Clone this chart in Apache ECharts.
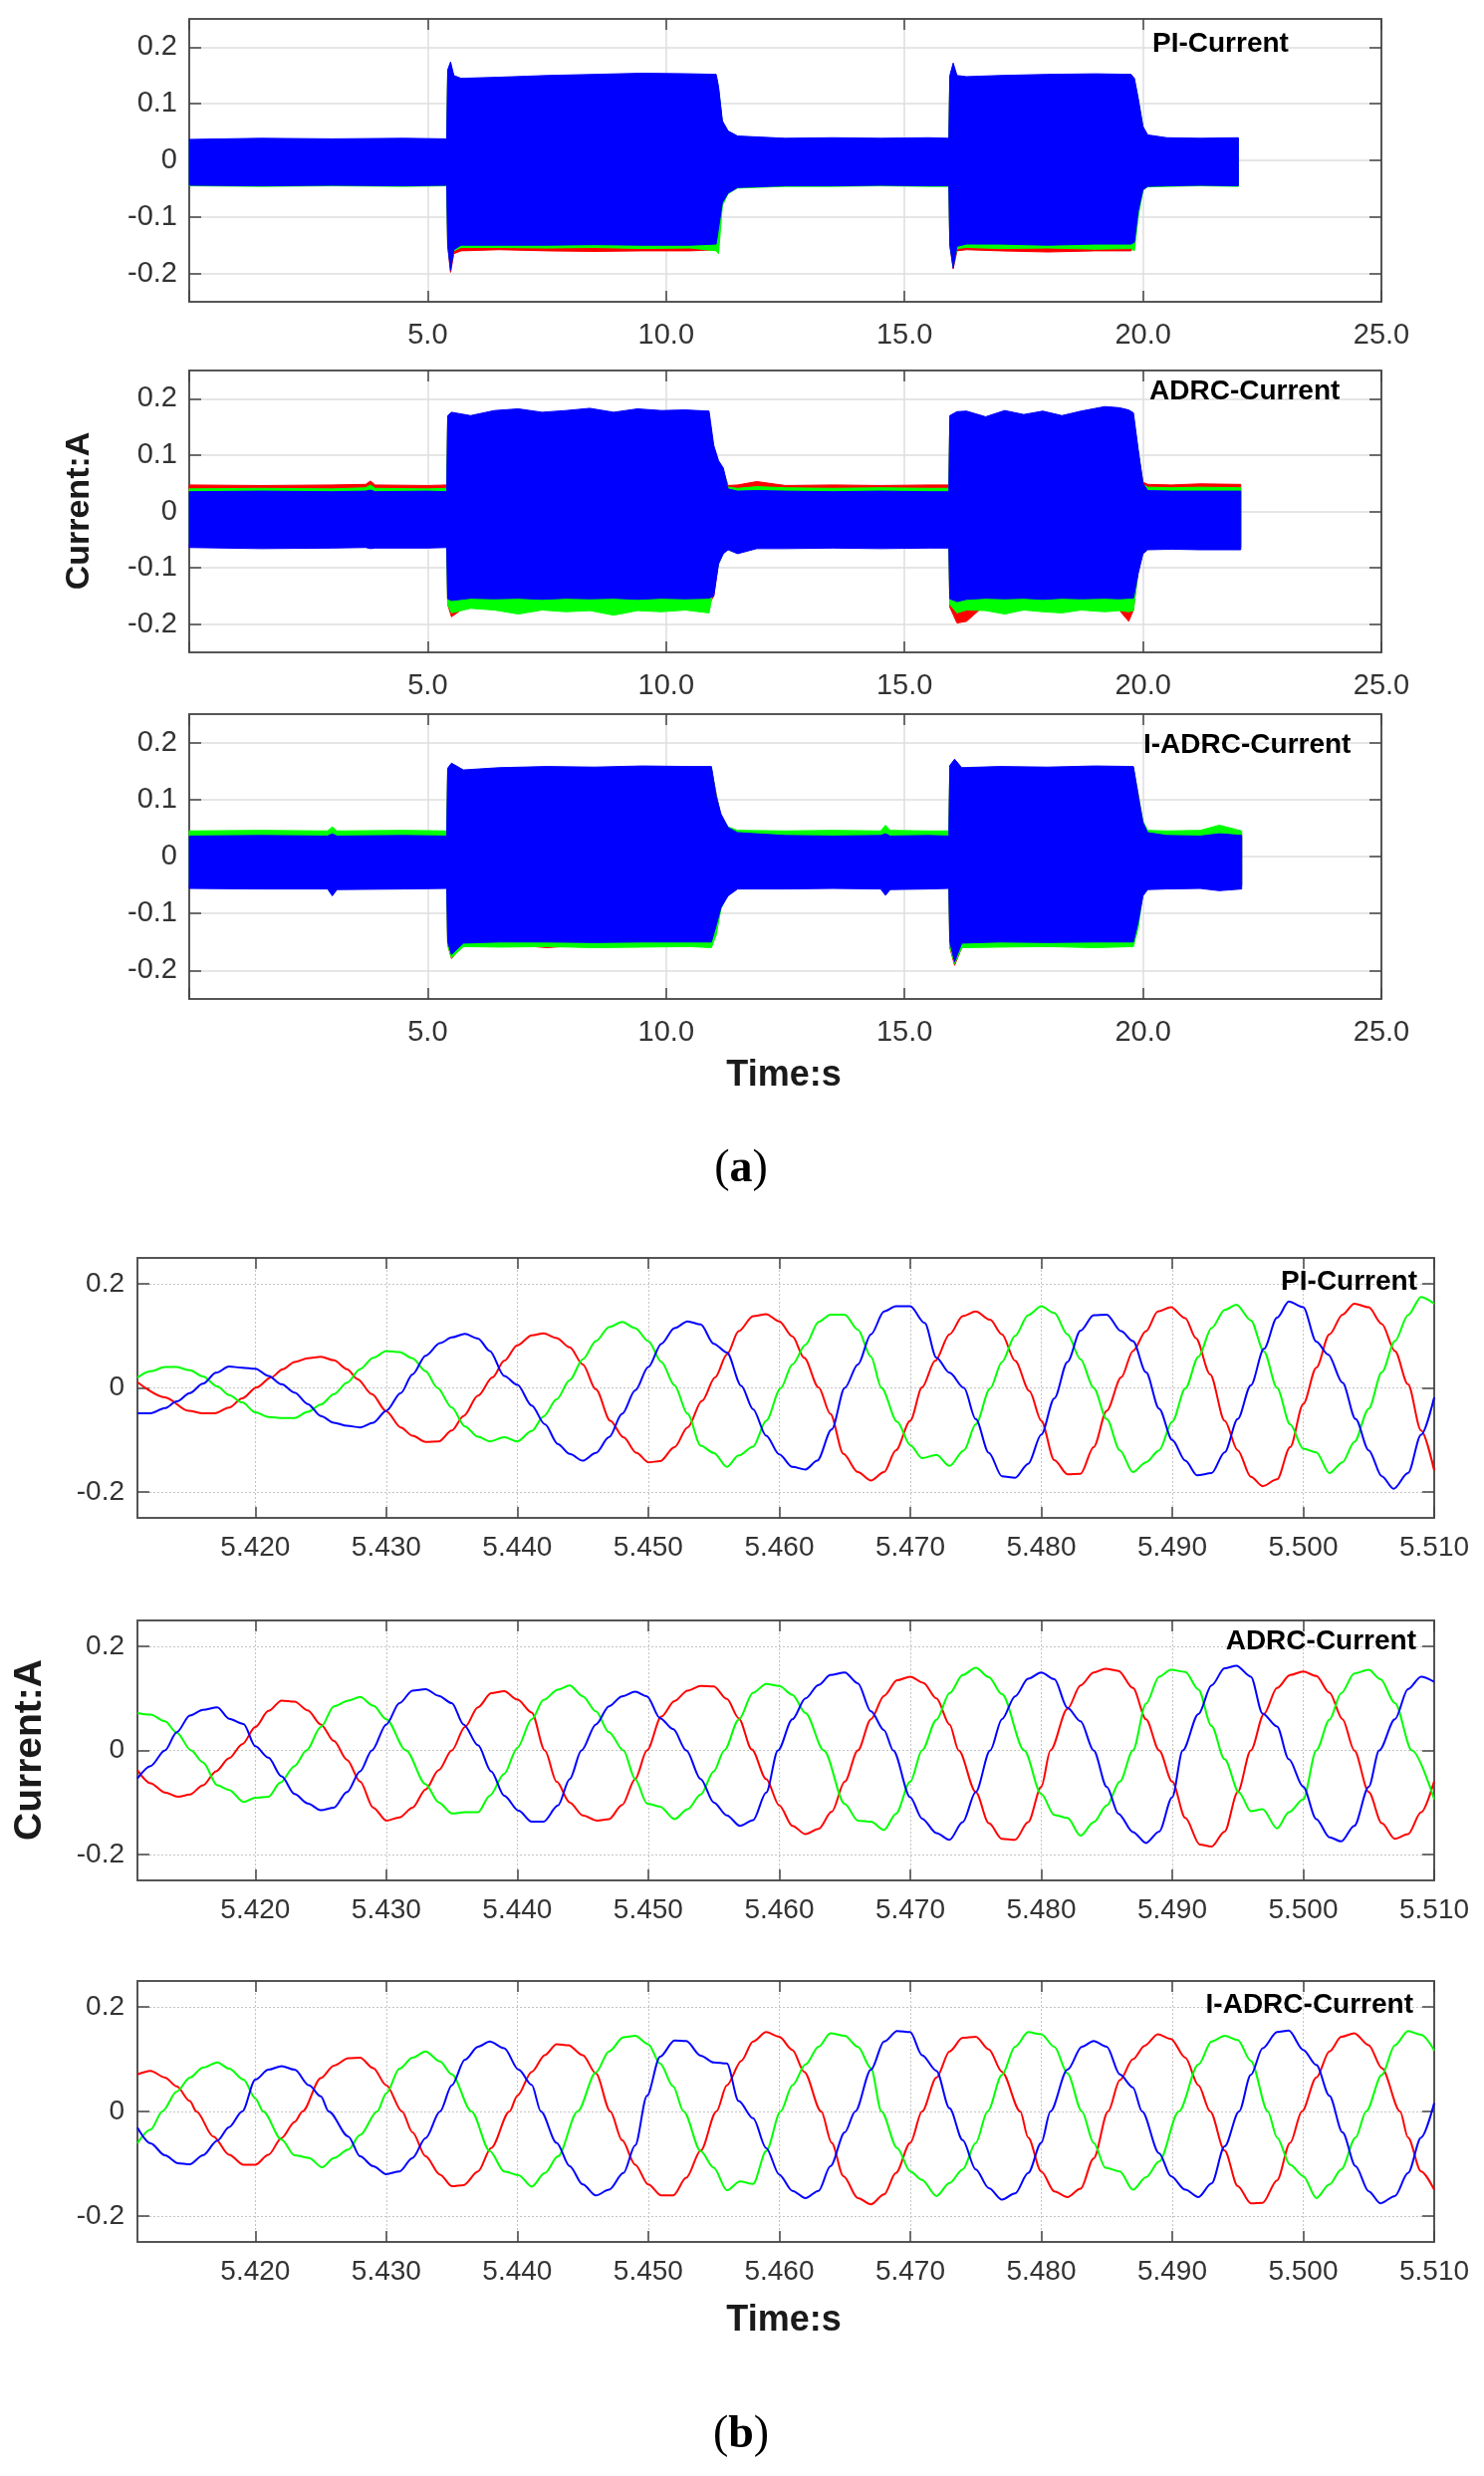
<!DOCTYPE html>
<html>
<head>
<meta charset="utf-8">
<title>Current: PI / ADRC / I-ADRC</title>
<script src="https://cdn.jsdelivr.net/npm/echarts@6/dist/echarts.min.js"></script>
<style>
  html, body { margin: 0; padding: 0; background: #fff; }
  #chart { width: 1490px; height: 2486px; }
</style>
</head>
<body>
<div id="chart"></div>
<script>
// ---------- (a) whole run: envelope of the three phase currents ----------
// PI
var tPI = [0, 1.5, 3, 4.5, 5.4, 5.42, 5.48, 5.55, 5.7, 6.5, 7.5, 8.5, 9.5, 10.5, 11.05, 11.1, 11.18, 11.3, 11.5, 12.5, 13.5, 14.5, 15.5, 15.93, 15.95, 16.02, 16.1, 16.3, 17, 18, 19, 19.75, 19.82, 19.9, 20.0, 20.1, 20.5, 21.2, 22.0];
var piRedHi = [0.035, 0.036, 0.035, 0.036, 0.035, 0.150, 0.165, 0.145, 0.142, 0.144, 0.146, 0.148, 0.150, 0.149, 0.148, 0.125, 0.066, 0.049, 0.040, 0.036, 0.037, 0.036, 0.037, 0.036, 0.145, 0.165, 0.146, 0.145, 0.146, 0.148, 0.149, 0.148, 0.141, 0.105, 0.056, 0.042, 0.037, 0.036, 0.037];
var piRedLo = [-0.043, -0.044, -0.043, -0.044, -0.043, -0.150, -0.198, -0.165, -0.160, -0.158, -0.160, -0.161, -0.160, -0.160, -0.158, -0.120, -0.075, -0.057, -0.047, -0.044, -0.044, -0.043, -0.044, -0.044, -0.150, -0.192, -0.160, -0.158, -0.160, -0.162, -0.160, -0.160, -0.150, -0.090, -0.051, -0.045, -0.044, -0.043, -0.044];
var piGreenHi = [0.036, 0.037, 0.036, 0.037, 0.036, 0.155, 0.170, 0.147, 0.143, 0.145, 0.148, 0.150, 0.152, 0.151, 0.150, 0.128, 0.068, 0.050, 0.041, 0.037, 0.038, 0.037, 0.038, 0.037, 0.147, 0.168, 0.148, 0.146, 0.148, 0.150, 0.151, 0.150, 0.143, 0.108, 0.058, 0.043, 0.038, 0.037, 0.038];
var piGreenLo = [-0.045, -0.046, -0.045, -0.046, -0.045, -0.150, -0.190, -0.160, -0.154, -0.154, -0.155, -0.154, -0.156, -0.155, -0.160, -0.165, -0.080, -0.059, -0.049, -0.046, -0.046, -0.045, -0.046, -0.046, -0.150, -0.188, -0.156, -0.154, -0.156, -0.155, -0.157, -0.156, -0.160, -0.100, -0.053, -0.047, -0.046, -0.045, -0.046];
var piBlueHi = [0.037, 0.039, 0.038, 0.039, 0.038, 0.160, 0.174, 0.150, 0.145, 0.147, 0.150, 0.152, 0.154, 0.153, 0.152, 0.130, 0.070, 0.052, 0.043, 0.039, 0.040, 0.039, 0.040, 0.039, 0.150, 0.172, 0.150, 0.148, 0.150, 0.152, 0.153, 0.152, 0.145, 0.110, 0.060, 0.045, 0.040, 0.039, 0.040];
var piBlueLo = [-0.044, -0.045, -0.044, -0.045, -0.044, -0.150, -0.195, -0.158, -0.150, -0.150, -0.150, -0.149, -0.150, -0.150, -0.148, -0.120, -0.075, -0.058, -0.048, -0.045, -0.045, -0.044, -0.045, -0.045, -0.150, -0.190, -0.152, -0.148, -0.148, -0.150, -0.148, -0.148, -0.145, -0.090, -0.052, -0.046, -0.045, -0.044, -0.045];

// ADRC
var tAD = [0, 1.5, 3, 3.7, 3.8, 3.9, 5, 5.4, 5.42, 5.5, 5.9, 6.4, 6.9, 7.4, 7.9, 8.4, 8.9, 9.4, 9.9, 10.4, 10.9, 11.0, 11.1, 11.2, 11.3, 11.5, 11.9, 12.5, 13.5, 14.5, 15.5, 15.93, 15.95, 16.1, 16.3, 16.7, 17.1, 17.5, 17.9, 18.3, 18.7, 19.2, 19.5, 19.7, 19.8, 19.9, 20.0, 20.1, 20.6, 21.2, 22.05];
var adRedHi = [0.047, 0.046, 0.047, 0.048, 0.054, 0.047, 0.046, 0.047, 0.160, 0.165, 0.162, 0.166, 0.168, 0.165, 0.166, 0.168, 0.165, 0.167, 0.166, 0.167, 0.165, 0.110, 0.085, 0.072, 0.046, 0.047, 0.053, 0.046, 0.047, 0.046, 0.047, 0.047, 0.160, 0.165, 0.166, 0.160, 0.166, 0.163, 0.165, 0.162, 0.165, 0.170, 0.170, 0.168, 0.165, 0.105, 0.052, 0.048, 0.047, 0.049, 0.048];
var adRedLo = [-0.060, -0.061, -0.060, -0.060, -0.061, -0.060, -0.060, -0.060, -0.165, -0.187, -0.163, -0.162, -0.165, -0.163, -0.162, -0.164, -0.163, -0.165, -0.162, -0.163, -0.165, -0.150, -0.090, -0.072, -0.064, -0.070, -0.062, -0.061, -0.060, -0.061, -0.060, -0.060, -0.170, -0.198, -0.195, -0.165, -0.163, -0.165, -0.164, -0.166, -0.170, -0.168, -0.175, -0.195, -0.175, -0.105, -0.072, -0.064, -0.063, -0.064, -0.064];
var adGreenHi = [0.040, 0.041, 0.040, 0.042, 0.047, 0.041, 0.040, 0.041, 0.162, 0.168, 0.165, 0.168, 0.170, 0.168, 0.169, 0.170, 0.168, 0.170, 0.169, 0.170, 0.168, 0.112, 0.087, 0.074, 0.043, 0.041, 0.044, 0.042, 0.041, 0.042, 0.041, 0.041, 0.162, 0.168, 0.169, 0.163, 0.169, 0.166, 0.168, 0.165, 0.168, 0.175, 0.174, 0.172, 0.168, 0.107, 0.048, 0.043, 0.042, 0.043, 0.042];
var adGreenLo = [-0.058, -0.059, -0.058, -0.058, -0.059, -0.058, -0.058, -0.058, -0.165, -0.180, -0.172, -0.175, -0.182, -0.175, -0.178, -0.176, -0.184, -0.176, -0.178, -0.175, -0.180, -0.134, -0.093, -0.074, -0.064, -0.070, -0.061, -0.060, -0.059, -0.060, -0.059, -0.059, -0.165, -0.180, -0.175, -0.176, -0.182, -0.175, -0.178, -0.180, -0.175, -0.178, -0.176, -0.178, -0.176, -0.105, -0.072, -0.063, -0.062, -0.063, -0.063];
var adBlueHi = [0.035, 0.036, 0.035, 0.036, 0.038, 0.035, 0.036, 0.035, 0.170, 0.176, 0.170, 0.179, 0.182, 0.176, 0.179, 0.183, 0.176, 0.182, 0.179, 0.180, 0.178, 0.117, 0.090, 0.077, 0.040, 0.036, 0.037, 0.036, 0.035, 0.036, 0.035, 0.035, 0.170, 0.177, 0.178, 0.168, 0.179, 0.172, 0.178, 0.170, 0.178, 0.186, 0.184, 0.180, 0.175, 0.110, 0.050, 0.037, 0.036, 0.036, 0.036];
var adBlueLo = [-0.064, -0.066, -0.065, -0.064, -0.066, -0.065, -0.065, -0.064, -0.155, -0.158, -0.154, -0.155, -0.154, -0.156, -0.154, -0.155, -0.154, -0.156, -0.154, -0.155, -0.154, -0.150, -0.093, -0.075, -0.068, -0.075, -0.066, -0.066, -0.065, -0.066, -0.065, -0.065, -0.155, -0.160, -0.156, -0.154, -0.155, -0.154, -0.156, -0.154, -0.155, -0.154, -0.155, -0.154, -0.154, -0.110, -0.075, -0.068, -0.067, -0.068, -0.068];

// I-ADRC
var tIA = [0, 1.5, 2.9, 3.0, 3.1, 4.5, 5.4, 5.42, 5.5, 5.75, 6.5, 7.5, 8.5, 9.5, 10.5, 10.95, 11.05, 11.15, 11.3, 11.5, 12.5, 13.5, 14.5, 14.6, 14.7, 15.5, 15.93, 15.95, 16.05, 16.2, 17, 18, 19, 19.8, 19.9, 20.0, 20.1, 20.5, 21.2, 21.6, 22.07];
var iaRedHi = [0.038, 0.039, 0.038, 0.045, 0.038, 0.039, 0.038, 0.150, 0.160, 0.148, 0.152, 0.154, 0.153, 0.155, 0.154, 0.154, 0.110, 0.070, 0.048, 0.040, 0.039, 0.038, 0.039, 0.045, 0.038, 0.039, 0.038, 0.155, 0.165, 0.152, 0.154, 0.153, 0.155, 0.154, 0.110, 0.058, 0.040, 0.039, 0.038, 0.045, 0.039];
var iaRedLo = [-0.050, -0.051, -0.051, -0.060, -0.052, -0.051, -0.050, -0.155, -0.179, -0.155, -0.153, -0.160, -0.154, -0.153, -0.155, -0.153, -0.115, -0.085, -0.062, -0.051, -0.051, -0.050, -0.051, -0.060, -0.052, -0.051, -0.050, -0.160, -0.191, -0.160, -0.153, -0.158, -0.153, -0.155, -0.110, -0.062, -0.052, -0.051, -0.050, -0.054, -0.051];
var iaGreenHi = [0.045, 0.046, 0.045, 0.052, 0.045, 0.046, 0.045, 0.152, 0.162, 0.150, 0.154, 0.156, 0.155, 0.157, 0.156, 0.156, 0.108, 0.072, 0.052, 0.046, 0.045, 0.046, 0.045, 0.055, 0.046, 0.045, 0.045, 0.158, 0.168, 0.154, 0.156, 0.155, 0.157, 0.156, 0.108, 0.062, 0.046, 0.045, 0.046, 0.055, 0.045];
var iaGreenLo = [-0.050, -0.051, -0.051, -0.060, -0.052, -0.051, -0.050, -0.155, -0.178, -0.158, -0.159, -0.158, -0.160, -0.159, -0.158, -0.160, -0.138, -0.092, -0.064, -0.052, -0.051, -0.050, -0.051, -0.060, -0.052, -0.051, -0.050, -0.158, -0.188, -0.160, -0.159, -0.158, -0.160, -0.158, -0.125, -0.064, -0.052, -0.051, -0.050, -0.054, -0.051];
var iaBlueHi = [0.036, 0.037, 0.036, 0.040, 0.036, 0.037, 0.036, 0.155, 0.164, 0.152, 0.156, 0.158, 0.157, 0.159, 0.158, 0.158, 0.106, 0.075, 0.051, 0.042, 0.037, 0.036, 0.037, 0.040, 0.036, 0.037, 0.036, 0.160, 0.171, 0.156, 0.158, 0.157, 0.159, 0.158, 0.106, 0.060, 0.042, 0.037, 0.036, 0.040, 0.037];
var iaBlueLo = [-0.056, -0.057, -0.057, -0.069, -0.058, -0.057, -0.056, -0.150, -0.172, -0.152, -0.150, -0.150, -0.151, -0.150, -0.150, -0.150, -0.121, -0.090, -0.069, -0.057, -0.057, -0.056, -0.057, -0.068, -0.058, -0.057, -0.056, -0.150, -0.185, -0.152, -0.150, -0.151, -0.150, -0.150, -0.115, -0.069, -0.058, -0.057, -0.056, -0.060, -0.057];

// ---------- (b) 5.411 - 5.510 s detail, [time, current] ----------
var zPiRed = [[5.4110,0.011],[5.4131,-0.018],[5.4149,-0.044],[5.4160,-0.049],[5.4169,-0.049],[5.4180,-0.038],[5.4190,-0.020],[5.4201,0.001],[5.4212,0.020],[5.4221,0.036],[5.4230,0.050],[5.4240,0.057],[5.4250,0.060],[5.4260,0.053],[5.4270,0.036],[5.4278,0.017],[5.4289,-0.012],[5.4300,-0.045],[5.4311,-0.076],[5.4320,-0.092],[5.4330,-0.104],[5.4340,-0.103],[5.4350,-0.082],[5.4359,-0.054],[5.4370,-0.015],[5.4381,0.020],[5.4390,0.052],[5.4400,0.082],[5.4411,0.101],[5.4420,0.105],[5.4430,0.096],[5.4440,0.078],[5.4450,0.045],[5.4460,-0.003],[5.4471,-0.063],[5.4481,-0.095],[5.4491,-0.125],[5.4500,-0.143],[5.4509,-0.141],[5.4520,-0.114],[5.4530,-0.076],[5.4541,-0.025],[5.4551,0.020],[5.4560,0.064],[5.4569,0.109],[5.4580,0.138],[5.4590,0.142],[5.4600,0.128],[5.4610,0.099],[5.4619,0.058],[5.4630,0.001],[5.4639,-0.050],[5.4649,-0.127],[5.4660,-0.162],[5.4670,-0.178],[5.4680,-0.162],[5.4689,-0.120],[5.4700,-0.063],[5.4709,0.001],[5.4719,0.052],[5.4730,0.103],[5.4740,0.138],[5.4750,0.147],[5.4761,0.131],[5.4770,0.103],[5.4780,0.052],[5.4791,-0.006],[5.4800,-0.063],[5.4810,-0.139],[5.4820,-0.166],[5.4830,-0.165],[5.4840,-0.114],[5.4850,-0.044],[5.4861,0.020],[5.4870,0.071],[5.4880,0.109],[5.4889,0.147],[5.4899,0.155],[5.4910,0.134],[5.4918,0.096],[5.4929,0.026],[5.4940,-0.063],[5.4950,-0.120],[5.4960,-0.171],[5.4969,-0.189],[5.4980,-0.176],[5.4990,-0.114],[5.5000,-0.031],[5.5010,0.039],[5.5020,0.103],[5.5030,0.141],[5.5039,0.162],[5.5050,0.155],[5.5060,0.123],[5.5070,0.071],[5.5080,0.007],[5.5090,-0.082],[5.5100,-0.159]];
var zPiGreen = [[5.4110,0.020],[5.4120,0.032],[5.4131,0.040],[5.4140,0.040],[5.4150,0.034],[5.4160,0.022],[5.4171,0.003],[5.4180,-0.014],[5.4190,-0.028],[5.4200,-0.047],[5.4210,-0.056],[5.4221,-0.058],[5.4230,-0.058],[5.4240,-0.046],[5.4250,-0.032],[5.4260,-0.012],[5.4270,0.010],[5.4280,0.036],[5.4290,0.058],[5.4300,0.071],[5.4310,0.069],[5.4320,0.057],[5.4330,0.032],[5.4339,0.000],[5.4350,-0.038],[5.4360,-0.074],[5.4370,-0.094],[5.4379,-0.103],[5.4390,-0.095],[5.4400,-0.103],[5.4411,-0.083],[5.4420,-0.055],[5.4430,-0.022],[5.4440,0.015],[5.4450,0.055],[5.4460,0.090],[5.4470,0.117],[5.4480,0.127],[5.4490,0.115],[5.4500,0.090],[5.4510,0.050],[5.4520,0.005],[5.4530,-0.050],[5.4540,-0.111],[5.4550,-0.125],[5.4560,-0.152],[5.4569,-0.130],[5.4580,-0.113],[5.4590,-0.063],[5.4601,-0.001],[5.4610,0.045],[5.4620,0.083],[5.4630,0.127],[5.4639,0.141],[5.4650,0.141],[5.4660,0.112],[5.4670,0.060],[5.4678,0.000],[5.4690,-0.065],[5.4700,-0.110],[5.4709,-0.135],[5.4720,-0.129],[5.4730,-0.150],[5.4741,-0.120],[5.4750,-0.070],[5.4761,-0.001],[5.4770,0.050],[5.4780,0.100],[5.4790,0.140],[5.4800,0.157],[5.4810,0.144],[5.4820,0.103],[5.4830,0.055],[5.4840,0.000],[5.4850,-0.060],[5.4860,-0.120],[5.4870,-0.162],[5.4880,-0.143],[5.4890,-0.120],[5.4900,-0.065],[5.4910,-0.001],[5.4920,0.060],[5.4930,0.115],[5.4940,0.150],[5.4949,0.160],[5.4960,0.130],[5.4970,0.070],[5.4980,0.000],[5.4990,-0.070],[5.5000,-0.117],[5.5010,-0.124],[5.5020,-0.164],[5.5030,-0.143],[5.5039,-0.104],[5.5050,-0.040],[5.5060,0.030],[5.5070,0.090],[5.5080,0.140],[5.5090,0.175],[5.5100,0.162]];
var zPiBlue = [[5.4110,-0.049],[5.4120,-0.049],[5.4131,-0.039],[5.4140,-0.026],[5.4150,-0.010],[5.4160,0.008],[5.4170,0.029],[5.4180,0.041],[5.4190,0.039],[5.4200,0.037],[5.4210,0.023],[5.4220,0.007],[5.4230,-0.009],[5.4240,-0.031],[5.4250,-0.054],[5.4260,-0.067],[5.4270,-0.073],[5.4280,-0.076],[5.4290,-0.067],[5.4300,-0.044],[5.4311,-0.010],[5.4320,0.026],[5.4330,0.062],[5.4341,0.086],[5.4350,0.097],[5.4360,0.104],[5.4370,0.095],[5.4379,0.071],[5.4390,0.023],[5.4400,0.006],[5.4411,-0.034],[5.4421,-0.070],[5.4431,-0.108],[5.4440,-0.127],[5.4450,-0.140],[5.4460,-0.125],[5.4470,-0.095],[5.4480,-0.050],[5.4490,-0.005],[5.4500,0.040],[5.4510,0.085],[5.4520,0.115],[5.4530,0.128],[5.4540,0.122],[5.4550,0.085],[5.4560,0.068],[5.4571,0.004],[5.4580,-0.041],[5.4590,-0.092],[5.4600,-0.128],[5.4610,-0.152],[5.4620,-0.157],[5.4629,-0.140],[5.4640,-0.080],[5.4650,0.000],[5.4660,0.045],[5.4670,0.103],[5.4680,0.147],[5.4689,0.157],[5.4700,0.157],[5.4711,0.125],[5.4720,0.058],[5.4730,0.029],[5.4741,0.000],[5.4750,-0.060],[5.4760,-0.125],[5.4770,-0.170],[5.4780,-0.173],[5.4790,-0.146],[5.4800,-0.090],[5.4810,-0.020],[5.4820,0.050],[5.4830,0.110],[5.4840,0.140],[5.4850,0.141],[5.4861,0.109],[5.4870,0.090],[5.4880,0.030],[5.4890,-0.040],[5.4900,-0.100],[5.4910,-0.140],[5.4919,-0.168],[5.4930,-0.164],[5.4940,-0.124],[5.4950,-0.060],[5.4960,0.005],[5.4970,0.075],[5.4980,0.135],[5.4989,0.166],[5.5000,0.155],[5.5010,0.089],[5.5019,0.064],[5.5030,0.010],[5.5040,-0.060],[5.5050,-0.120],[5.5060,-0.170],[5.5069,-0.194],[5.5080,-0.164],[5.5090,-0.090],[5.5100,-0.018]];

var zAdRed = [[5.4110,-0.038],[5.4120,-0.063],[5.4131,-0.081],[5.4141,-0.089],[5.4150,-0.085],[5.4160,-0.067],[5.4170,-0.040],[5.4180,-0.015],[5.4190,0.012],[5.4200,0.045],[5.4210,0.076],[5.4220,0.096],[5.4230,0.094],[5.4240,0.077],[5.4250,0.050],[5.4260,0.018],[5.4270,-0.018],[5.4280,-0.060],[5.4290,-0.110],[5.4300,-0.135],[5.4310,-0.129],[5.4320,-0.110],[5.4330,-0.075],[5.4340,-0.038],[5.4350,0.000],[5.4360,0.045],[5.4370,0.083],[5.4380,0.110],[5.4390,0.114],[5.4400,0.098],[5.4411,0.073],[5.4421,0.000],[5.4430,-0.060],[5.4440,-0.100],[5.4450,-0.125],[5.4461,-0.135],[5.4470,-0.132],[5.4480,-0.105],[5.4490,-0.055],[5.4499,0.000],[5.4510,0.065],[5.4520,0.095],[5.4530,0.115],[5.4540,0.124],[5.4550,0.123],[5.4560,0.099],[5.4569,0.062],[5.4579,0.002],[5.4590,-0.055],[5.4600,-0.106],[5.4610,-0.145],[5.4620,-0.161],[5.4630,-0.151],[5.4640,-0.118],[5.4650,-0.060],[5.4660,0.000],[5.4670,0.060],[5.4680,0.105],[5.4690,0.135],[5.4700,0.142],[5.4710,0.130],[5.4720,0.100],[5.4730,0.050],[5.4737,0.000],[5.4750,-0.080],[5.4760,-0.140],[5.4770,-0.170],[5.4780,-0.172],[5.4790,-0.138],[5.4800,-0.070],[5.4807,0.000],[5.4820,0.080],[5.4830,0.125],[5.4840,0.150],[5.4849,0.157],[5.4859,0.153],[5.4870,0.120],[5.4880,0.060],[5.4890,0.000],[5.4900,-0.060],[5.4910,-0.130],[5.4921,-0.181],[5.4930,-0.185],[5.4940,-0.156],[5.4950,-0.080],[5.4960,0.000],[5.4970,0.070],[5.4980,0.120],[5.4990,0.145],[5.5000,0.152],[5.5010,0.143],[5.5020,0.111],[5.5030,0.060],[5.5039,0.000],[5.5050,-0.080],[5.5060,-0.140],[5.5070,-0.170],[5.5080,-0.161],[5.5090,-0.119],[5.5100,-0.059]];
var zAdGreen = [[5.4110,0.072],[5.4120,0.069],[5.4131,0.056],[5.4140,0.034],[5.4151,0.000],[5.4160,-0.023],[5.4171,-0.067],[5.4180,-0.076],[5.4191,-0.099],[5.4200,-0.091],[5.4210,-0.089],[5.4219,-0.062],[5.4230,-0.030],[5.4239,0.000],[5.4250,0.045],[5.4260,0.085],[5.4271,0.096],[5.4280,0.103],[5.4290,0.086],[5.4300,0.060],[5.4315,0.000],[5.4330,-0.065],[5.4340,-0.100],[5.4350,-0.121],[5.4360,-0.119],[5.4370,-0.119],[5.4379,-0.087],[5.4390,-0.045],[5.4400,0.005],[5.4411,0.060],[5.4420,0.097],[5.4431,0.117],[5.4440,0.125],[5.4450,0.104],[5.4460,0.075],[5.4470,0.035],[5.4481,0.000],[5.4490,-0.055],[5.4499,-0.102],[5.4509,-0.108],[5.4520,-0.132],[5.4530,-0.113],[5.4540,-0.085],[5.4550,-0.040],[5.4558,0.000],[5.4569,0.059],[5.4580,0.111],[5.4590,0.128],[5.4600,0.124],[5.4610,0.107],[5.4620,0.072],[5.4634,0.000],[5.4650,-0.103],[5.4660,-0.135],[5.4670,-0.137],[5.4680,-0.153],[5.4689,-0.122],[5.4700,-0.060],[5.4709,0.000],[5.4720,0.059],[5.4730,0.110],[5.4740,0.145],[5.4750,0.159],[5.4760,0.141],[5.4770,0.108],[5.4787,0.000],[5.4800,-0.084],[5.4810,-0.124],[5.4820,-0.130],[5.4830,-0.164],[5.4840,-0.138],[5.4850,-0.106],[5.4860,-0.060],[5.4870,0.000],[5.4880,0.090],[5.4890,0.142],[5.4899,0.155],[5.4910,0.151],[5.4920,0.117],[5.4930,0.047],[5.4940,-0.017],[5.4951,-0.081],[5.4960,-0.117],[5.4969,-0.113],[5.4980,-0.150],[5.4989,-0.119],[5.5000,-0.094],[5.5010,0.000],[5.5020,0.059],[5.5029,0.110],[5.5039,0.148],[5.5050,0.155],[5.5059,0.137],[5.5070,0.091],[5.5083,0.000],[5.5100,-0.094]];
var zAdBlue = [[5.4110,-0.054],[5.4120,-0.030],[5.4131,0.000],[5.4140,0.035],[5.4150,0.067],[5.4160,0.078],[5.4171,0.083],[5.4180,0.061],[5.4191,0.051],[5.4200,0.008],[5.4210,-0.014],[5.4220,-0.050],[5.4230,-0.084],[5.4240,-0.102],[5.4250,-0.115],[5.4260,-0.110],[5.4270,-0.080],[5.4280,-0.040],[5.4289,0.000],[5.4300,0.050],[5.4310,0.091],[5.4320,0.115],[5.4330,0.118],[5.4340,0.105],[5.4350,0.091],[5.4359,0.050],[5.4370,0.010],[5.4380,-0.040],[5.4390,-0.087],[5.4401,-0.116],[5.4411,-0.137],[5.4420,-0.137],[5.4431,-0.106],[5.4440,-0.055],[5.4449,0.000],[5.4460,0.050],[5.4470,0.085],[5.4480,0.104],[5.4490,0.113],[5.4499,0.104],[5.4509,0.062],[5.4519,0.041],[5.4529,0.000],[5.4540,-0.055],[5.4550,-0.100],[5.4560,-0.125],[5.4570,-0.145],[5.4580,-0.134],[5.4590,-0.081],[5.4599,0.000],[5.4610,0.060],[5.4620,0.100],[5.4630,0.126],[5.4639,0.145],[5.4650,0.150],[5.4660,0.129],[5.4670,0.075],[5.4680,0.039],[5.4687,0.000],[5.4700,-0.090],[5.4709,-0.131],[5.4720,-0.159],[5.4730,-0.172],[5.4740,-0.138],[5.4750,-0.080],[5.4761,0.000],[5.4770,0.060],[5.4780,0.104],[5.4790,0.138],[5.4800,0.150],[5.4810,0.137],[5.4820,0.082],[5.4830,0.056],[5.4840,0.000],[5.4850,-0.070],[5.4859,-0.122],[5.4870,-0.157],[5.4880,-0.178],[5.4890,-0.156],[5.4900,-0.090],[5.4908,0.000],[5.4920,0.070],[5.4930,0.125],[5.4940,0.158],[5.4949,0.163],[5.4960,0.142],[5.4969,0.071],[5.4980,0.046],[5.4989,-0.017],[5.5000,-0.070],[5.5010,-0.132],[5.5020,-0.167],[5.5029,-0.175],[5.5039,-0.145],[5.5050,-0.070],[5.5058,0.000],[5.5070,0.060],[5.5080,0.118],[5.5090,0.142],[5.5100,0.132]];

var zIaRed = [[5.4110,0.071],[5.4120,0.078],[5.4131,0.065],[5.4140,0.048],[5.4150,0.020],[5.4155,0.000],[5.4168,-0.048],[5.4180,-0.083],[5.4191,-0.102],[5.4200,-0.102],[5.4210,-0.083],[5.4220,-0.051],[5.4230,-0.020],[5.4236,0.000],[5.4250,0.064],[5.4260,0.088],[5.4271,0.102],[5.4280,0.103],[5.4290,0.083],[5.4300,0.050],[5.4312,0.000],[5.4320,-0.040],[5.4330,-0.086],[5.4341,-0.121],[5.4350,-0.143],[5.4359,-0.141],[5.4370,-0.115],[5.4380,-0.070],[5.4394,0.000],[5.4400,0.030],[5.4411,0.076],[5.4421,0.108],[5.4430,0.129],[5.4439,0.127],[5.4450,0.108],[5.4460,0.073],[5.4471,0.000],[5.4480,-0.055],[5.4490,-0.102],[5.4500,-0.140],[5.4510,-0.161],[5.4519,-0.161],[5.4529,-0.127],[5.4540,-0.075],[5.4552,0.000],[5.4560,0.050],[5.4571,0.097],[5.4580,0.134],[5.4590,0.152],[5.4600,0.143],[5.4610,0.118],[5.4619,0.076],[5.4632,0.000],[5.4640,-0.060],[5.4649,-0.124],[5.4660,-0.166],[5.4670,-0.178],[5.4680,-0.159],[5.4689,-0.118],[5.4700,-0.060],[5.4709,0.000],[5.4720,0.065],[5.4730,0.115],[5.4740,0.141],[5.4750,0.143],[5.4760,0.119],[5.4770,0.076],[5.4784,0.000],[5.4790,-0.050],[5.4800,-0.115],[5.4810,-0.153],[5.4820,-0.164],[5.4830,-0.148],[5.4840,-0.090],[5.4851,0.000],[5.4860,0.060],[5.4870,0.100],[5.4879,0.126],[5.4889,0.148],[5.4899,0.139],[5.4910,0.103],[5.4920,0.050],[5.4929,0.000],[5.4940,-0.075],[5.4950,-0.143],[5.4960,-0.176],[5.4969,-0.175],[5.4980,-0.132],[5.4990,-0.060],[5.4999,0.000],[5.5010,0.065],[5.5020,0.115],[5.5029,0.143],[5.5039,0.150],[5.5050,0.127],[5.5060,0.083],[5.5074,0.000],[5.5080,-0.050],[5.5090,-0.115],[5.5100,-0.150]];
var zIaGreen = [[5.4110,-0.061],[5.4120,-0.035],[5.4129,0.000],[5.4140,0.038],[5.4150,0.065],[5.4160,0.084],[5.4171,0.094],[5.4180,0.082],[5.4191,0.061],[5.4200,0.025],[5.4206,0.000],[5.4220,-0.054],[5.4230,-0.084],[5.4241,-0.089],[5.4251,-0.107],[5.4260,-0.089],[5.4271,-0.073],[5.4280,-0.045],[5.4293,0.000],[5.4300,0.035],[5.4310,0.082],[5.4320,0.103],[5.4330,0.115],[5.4341,0.096],[5.4350,0.071],[5.4365,0.000],[5.4379,-0.076],[5.4390,-0.115],[5.4401,-0.122],[5.4411,-0.144],[5.4421,-0.118],[5.4431,-0.086],[5.4446,0.000],[5.4460,0.075],[5.4470,0.115],[5.4481,0.142],[5.4490,0.145],[5.4500,0.129],[5.4509,0.092],[5.4519,0.048],[5.4527,0.000],[5.4540,-0.076],[5.4550,-0.108],[5.4560,-0.151],[5.4570,-0.134],[5.4580,-0.139],[5.4590,-0.076],[5.4601,0.000],[5.4610,0.050],[5.4620,0.090],[5.4630,0.124],[5.4639,0.150],[5.4650,0.145],[5.4660,0.124],[5.4670,0.083],[5.4678,0.000],[5.4690,-0.070],[5.4700,-0.115],[5.4709,-0.131],[5.4720,-0.162],[5.4730,-0.137],[5.4740,-0.111],[5.4750,-0.060],[5.4759,0.000],[5.4770,0.070],[5.4780,0.124],[5.4790,0.152],[5.4800,0.148],[5.4810,0.124],[5.4820,0.073],[5.4831,0.000],[5.4840,-0.060],[5.4849,-0.108],[5.4860,-0.115],[5.4870,-0.150],[5.4880,-0.126],[5.4890,-0.096],[5.4905,0.000],[5.4920,0.090],[5.4930,0.134],[5.4940,0.145],[5.4950,0.137],[5.4960,0.097],[5.4973,0.000],[5.4980,-0.050],[5.4990,-0.102],[5.5000,-0.124],[5.5010,-0.166],[5.5020,-0.140],[5.5029,-0.111],[5.5040,-0.050],[5.5048,0.000],[5.5060,0.070],[5.5070,0.127],[5.5080,0.154],[5.5090,0.147],[5.5100,0.117]];
var zIaBlue = [[5.4110,-0.031],[5.4120,-0.061],[5.4131,-0.084],[5.4141,-0.099],[5.4150,-0.101],[5.4160,-0.084],[5.4171,-0.056],[5.4180,-0.030],[5.4190,0.000],[5.4200,0.061],[5.4210,0.080],[5.4220,0.087],[5.4230,0.080],[5.4241,0.050],[5.4250,0.029],[5.4256,0.000],[5.4271,-0.048],[5.4280,-0.086],[5.4290,-0.105],[5.4300,-0.120],[5.4310,-0.115],[5.4320,-0.089],[5.4330,-0.051],[5.4341,0.000],[5.4350,0.050],[5.4360,0.099],[5.4370,0.124],[5.4379,0.134],[5.4390,0.121],[5.4401,0.080],[5.4411,0.051],[5.4418,0.000],[5.4430,-0.060],[5.4440,-0.105],[5.4450,-0.140],[5.4460,-0.161],[5.4470,-0.150],[5.4481,-0.118],[5.4490,-0.065],[5.4499,0.030],[5.4509,0.105],[5.4520,0.136],[5.4529,0.135],[5.4540,0.107],[5.4550,0.094],[5.4560,0.092],[5.4569,0.020],[5.4580,-0.013],[5.4590,-0.070],[5.4600,-0.121],[5.4610,-0.152],[5.4620,-0.166],[5.4630,-0.152],[5.4639,-0.105],[5.4650,-0.040],[5.4658,0.000],[5.4670,0.080],[5.4680,0.134],[5.4690,0.154],[5.4700,0.152],[5.4709,0.108],[5.4720,0.078],[5.4730,0.006],[5.4740,-0.055],[5.4750,-0.111],[5.4760,-0.147],[5.4770,-0.169],[5.4780,-0.157],[5.4790,-0.118],[5.4800,-0.060],[5.4807,0.000],[5.4820,0.080],[5.4831,0.124],[5.4840,0.135],[5.4850,0.124],[5.4860,0.071],[5.4870,0.046],[5.4877,0.000],[5.4890,-0.080],[5.4899,-0.124],[5.4910,-0.150],[5.4920,-0.164],[5.4930,-0.138],[5.4940,-0.067],[5.4951,0.000],[5.4960,0.070],[5.4969,0.121],[5.4980,0.152],[5.4989,0.155],[5.5000,0.118],[5.5010,0.089],[5.5020,0.030],[5.5030,-0.040],[5.5040,-0.105],[5.5050,-0.153],[5.5059,-0.176],[5.5070,-0.162],[5.5080,-0.118],[5.5090,-0.050],[5.5100,0.016]];

// ---------- ticks and labels ----------
var overviewYTicks = [-0.2, -0.1, 0, 0.1, 0.2];
var zoomYTicks = [-0.2, 0, 0.2];
var zoomXTicks = [5.42, 5.43, 5.44, 5.45, 5.46, 5.47, 5.48, 5.49, 5.50, 5.51];
var panelNames = ['PI-Current', 'ADRC-Current', 'I-ADRC-Current'];

// ---------- styling ----------
var FONT = '"Liberation Sans", Arial, Helvetica, sans-serif';
var SERIF = '"Liberation Serif", "Times New Roman", serif';
var RED = '#ff0000', GREEN = '#00ff00', BLUE = '#0000ff';

var option = {
  animation: false,
  backgroundColor: '#ffffff',
  grid: [], xAxis: [], yAxis: [], series: [], graphic: []
};

function fmtY(v) { return v === 0 ? '0' : v.toFixed(1); }

// one boxed panel: bottom/left axes carry labels, top/right only ticks (MATLAB "box on")
function addPanel(p) {
  var gi = option.grid.length;
  option.grid.push({ left: p.left, top: p.top, width: p.width, height: p.height, outerBoundsMode: 'none' });
  var frame = { color: '#555555', width: 2 };
  var tick = { color: '#444444', width: 1.5 };
  var split = { color: p.splitColor, width: p.splitWidth, type: p.splitType };
  var xi = option.xAxis.length, yi = option.yAxis.length;
  var xBase = { type: 'value', gridIndex: gi, min: p.xMin, max: p.xMax, interval: p.xInterval };
  option.xAxis.push(Object.assign({}, xBase, {
    position: 'bottom',
    axisLine: { show: true, onZero: false, lineStyle: frame },
    axisTick: { show: true, inside: true, length: 11, lineStyle: tick, customValues: p.xTicks },
    axisLabel: { show: true, margin: p.xMargin, fontSize: p.fontSize, fontFamily: FONT, color: '#333',
                 formatter: p.xFormat, customValues: p.xTicks },
    splitLine: { show: true, lineStyle: split }
  }));
  option.xAxis.push(Object.assign({}, xBase, {
    position: 'top',
    axisLine: { show: true, onZero: false, lineStyle: frame },
    axisTick: { show: true, inside: true, length: 11, lineStyle: tick, customValues: p.xTicks },
    axisLabel: { show: false }, splitLine: { show: false }
  }));
  var yBase = { type: 'value', gridIndex: gi, min: -0.25, max: 0.25 };
  option.yAxis.push(Object.assign({}, yBase, {
    position: 'left',
    axisLine: { show: true, onZero: false, lineStyle: frame },
    axisTick: { show: true, inside: true, length: 12, lineStyle: tick, customValues: p.yTicks },
    axisLabel: { show: true, margin: p.yMargin, fontSize: p.fontSize, fontFamily: FONT, color: '#333',
                 formatter: fmtY, customValues: p.yTicks },
    splitLine: { show: true, lineStyle: split }
  }));
  option.yAxis.push(Object.assign({}, yBase, {
    position: 'right',
    axisLine: { show: true, onZero: false, lineStyle: frame },
    axisTick: { show: true, inside: true, length: 12, lineStyle: tick, customValues: p.yTicks },
    axisLabel: { show: false }, splitLine: { show: false }
  }));
  return { x: xi, y: yi };
}

// filled envelope of one phase: polygon upper edge then lower edge, through the axis scales
function band(ax, t, hi, lo, color) {
  return {
    type: 'custom', xAxisIndex: ax.x, yAxisIndex: ax.y, silent: true,
    data: t.map(function (x, i) { return [x, hi[i], lo[i]]; }),
    encode: { x: 0, y: [1, 2] },
    renderItem: function (params, api) {
      if (params.dataIndex !== 0) return null;
      var pts = [], i;
      for (i = 0; i < t.length; i++) pts.push(api.coord([t[i], hi[i]]));
      for (i = t.length - 1; i >= 0; i--) pts.push(api.coord([t[i], lo[i]]));
      return { type: 'polygon', shape: { points: pts }, style: { fill: color, stroke: color, lineWidth: 1 } };
    }
  };
}

function wave(ax, pts, color) {
  return {
    type: 'line', xAxisIndex: ax.x, yAxisIndex: ax.y, data: pts,
    symbol: 'none', showSymbol: false, smooth: 0.3, smoothMonotone: 'x', silent: true,
    lineStyle: { color: color, width: 2 }, itemStyle: { color: color }
  };
}

// ---------- (a) ----------
var overviewTops = [19, 372, 717], overviewHeights = [284, 283, 286];
var overviewData = [
  [tPI, piRedHi, piRedLo, piGreenHi, piGreenLo, piBlueHi, piBlueLo],
  [tAD, adRedHi, adRedLo, adGreenHi, adGreenLo, adBlueHi, adBlueLo],
  [tIA, iaRedHi, iaRedLo, iaGreenHi, iaGreenLo, iaBlueHi, iaBlueLo]
];
var overviewTitlePos = [[1157, 44], [1154, 393], [1148, 748]];

overviewData.forEach(function (d, k) {
  var ax = addPanel({
    left: 190, width: 1197, top: overviewTops[k], height: overviewHeights[k],
    xMin: 0, xMax: 25, xInterval: 5,
    xFormat: function (v) { return v === 0 ? '' : v.toFixed(1); },
    yTicks: overviewYTicks, xMargin: 19, yMargin: 12, fontSize: 29,
    splitColor: '#dedede', splitWidth: 1.5, splitType: 'solid'
  });
  option.series.push(band(ax, d[0], d[1], d[2], RED));
  option.series.push(band(ax, d[0], d[3], d[4], GREEN));
  option.series.push(band(ax, d[0], d[5], d[6], BLUE));
  option.graphic.push({
    type: 'text', x: overviewTitlePos[k][0], y: overviewTitlePos[k][1], z: 100,
    style: { text: panelNames[k], font: 'bold 28px ' + FONT, fill: '#000', align: 'left', verticalAlign: 'middle' }
  });
});

// ---------- (b) ----------
var zoomTops = [1263, 1627, 1989], zoomHeights = [261, 261, 262];
var zoomData = [
  [zPiRed, zPiGreen, zPiBlue],
  [zAdRed, zAdGreen, zAdBlue],
  [zIaRed, zIaGreen, zIaBlue]
];
var zoomTitlePos = [[1423, 1287], [1422, 1648], [1419, 2013]];

zoomData.forEach(function (d, k) {
  var ax = addPanel({
    left: 138, width: 1302, top: zoomTops[k], height: zoomHeights[k],
    xMin: 5.411, xMax: 5.51, xTicks: zoomXTicks,
    xFormat: function (v) { return v.toFixed(3); },
    yTicks: zoomYTicks, xMargin: 16, yMargin: 13, fontSize: 28,
    splitColor: '#c4c4c4', splitWidth: 1, splitType: [2, 2]
  });
  option.series.push(wave(ax, d[0], RED));
  option.series.push(wave(ax, d[1], GREEN));
  option.series.push(wave(ax, d[2], BLUE));
  option.graphic.push({
    type: 'text', x: zoomTitlePos[k][0], y: zoomTitlePos[k][1], z: 100,
    style: { text: panelNames[k], font: 'bold 28px ' + FONT, fill: '#000', align: 'right', verticalAlign: 'middle' }
  });
});

// ---------- shared axis names and sub-figure captions ----------
option.graphic.push(
  { type: 'text', x: 80, y: 513, rotation: Math.PI / 2,
    style: { text: 'Current:A', font: 'bold 34px ' + FONT, fill: '#1a1a1a', align: 'center', verticalAlign: 'middle' } },
  { type: 'text', x: 30, y: 1757, rotation: Math.PI / 2,
    style: { text: 'Current:A', font: 'bold 39px ' + FONT, fill: '#1a1a1a', align: 'center', verticalAlign: 'middle' } },
  { type: 'text', x: 787, y: 1080,
    style: { text: 'Time:s', font: 'bold 36px ' + FONT, fill: '#1a1a1a', align: 'center', verticalAlign: 'middle' } },
  { type: 'text', x: 787, y: 2330,
    style: { text: 'Time:s', font: 'bold 36px ' + FONT, fill: '#1a1a1a', align: 'center', verticalAlign: 'middle' } },
  { type: 'text', x: 744, y: 1174,
    style: { text: '({b|a})', fontFamily: SERIF, fontSize: 46, fill: '#000', align: 'center', verticalAlign: 'middle',
             rich: { b: { fontFamily: SERIF, fontSize: 46, fontWeight: 'bold', fill: '#000' } } } },
  { type: 'text', x: 744, y: 2445,
    style: { text: '({b|b})', fontFamily: SERIF, fontSize: 46, fill: '#000', align: 'center', verticalAlign: 'middle',
             rich: { b: { fontFamily: SERIF, fontSize: 46, fontWeight: 'bold', fill: '#000' } } } }
);

var chart = echarts.init(document.getElementById('chart'));
chart.setOption(option);
</script>
</body>
</html>
